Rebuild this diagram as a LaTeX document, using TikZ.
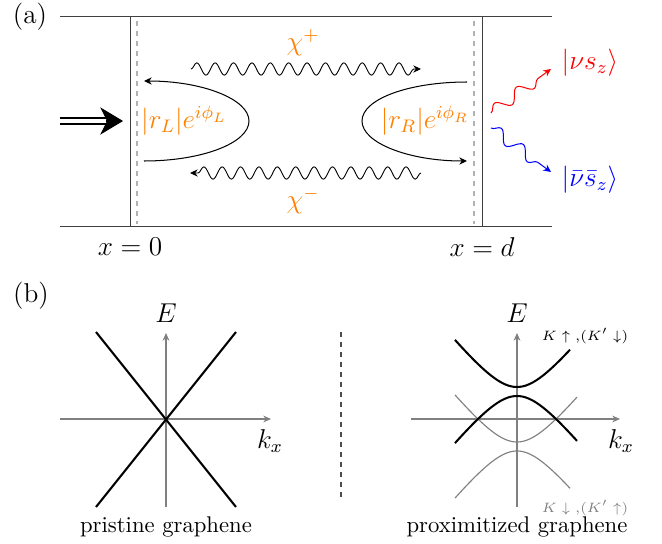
\documentclass[tikz,border=0pt]{standalone}
\usetikzlibrary{arrows.meta,decorations.pathmorphing}
\begin{document}
\begin{tikzpicture}[x=0.4405pt,y=-0.4405pt,
  boxline/.style={black!75,line width=0.4pt},
  gdash/.style={black!30,line width=0.45pt,dash pattern=on 2.2pt off 2.2pt},
  lbl/.style={font=\large,inner sep=0pt},
  org/.style={lbl,text=orange},
  tipsm/.style={-{Stealth[length=3.4pt,width=3.2pt]}},
  wavy/.style={tipsm,decorate,decoration={snake,amplitude=2.7pt,segment length=8.1pt,post length=2.5pt}},
  smallwavy/.style={tipsm,decorate,decoration={snake,amplitude=2.6pt,segment length=12pt,post length=3pt}},
  axis/.style={black!50,line width=0.45pt,-{Stealth[length=3.4pt,width=3pt]}},
  band/.style={black,line width=0.9pt},
  gband/.style={black!50,line width=0.5pt}]
\useasboundingbox (0,0) rectangle (662,544);
% ---------- (a) ----------
\node[lbl] (la) at (30,17) {(a)};
\coordinate (tl) at (60,16);  \coordinate (tr) at (552,16);
\coordinate (bl) at (60,226); \coordinate (br) at (552,226);
\draw[boxline] (tl) -- (tr);
\draw[boxline] (bl) -- (br);
\coordinate (v0t) at (130,16);  \coordinate (v0b) at (130,226);
\coordinate (vdt) at (482,16);  \coordinate (vdb) at (482,226);
\draw[boxline] (v0t) -- (v0b);
\draw[boxline] (vdt) -- (vdb);
\coordinate (d0t) at (137,21); \coordinate (d0b) at (137,224);
\coordinate (ddt) at (474,21); \coordinate (ddb) at (474,224);
\draw[gdash] (d0t) -- (d0b);
\draw[gdash] (ddt) -- (ddb);
% incoming double arrow
\coordinate (ins) at (60,121); \coordinate (inm) at (106,121); \coordinate (ine) at (123,121);
\draw[black,line width=0.55pt,double,double distance=2.1pt] (ins) -- (inm);
\draw[black,line width=0.5pt,-{Stealth[length=10pt,width=12pt,inset=3pt]}] (inm) -- (ine);
% labels
\node[lbl] (x0) at (130,247) {$x=0$};
\node[lbl] (xd) at (482,247) {$x=d$};
\node[org] (rL) at (184,121) {$|r_L|e^{i\phi_L}$};
\node[org] (rR) at (425,121) {$|r_R|e^{i\phi_R}$};
\node[org] (chp) at (303,43) {$\chi^{+}$};
\node[org] (chm) at (303,201) {$\chi^{-}$};
% wavy lines
\coordinate (w1s) at (191,69);  \coordinate (w1e) at (421,69);
\coordinate (w2s) at (421,173); \coordinate (w2e) at (190,173);
\draw[wavy] (w1s) -- (w1e);
\draw[wavy] (w2s) -- (w2e);
% U-shaped reflections
\coordinate (uL1) at (144,161); \coordinate (uL2) at (249,121); \coordinate (uL3) at (144,81);
\draw[tipsm,line width=0.45pt] (uL1) .. controls (202,161) and (249,143) .. (uL2)
   .. controls (249,99) and (202,81) .. (uL3);
\coordinate (uR1) at (467,82); \coordinate (uR2) at (362,121); \coordinate (uR3) at (467,161);
\draw[tipsm,line width=0.45pt] (uR1) .. controls (409,82) and (362,99) .. (uR2)
   .. controls (362,143) and (409,161) .. (uR3);
% outgoing states
\coordinate (rs) at (491,113); \coordinate (re) at (551,69);
\coordinate (bs) at (491,128); \coordinate (be) at (551,172);
\draw[smallwavy,red,line width=0.45pt] (rs) -- (re);
\draw[smallwavy,blue,line width=0.45pt] (bs) -- (be);
\node[lbl,text=red] (nu) at (590,63) {$|\nu s_z\rangle$};
\node[lbl,text=blue] (nub) at (590,180) {$|\bar{\nu}\bar{s}_z\rangle$};
% ---------- (b) ----------
\node[lbl] (lb) at (31,296) {(b)};
% left panel
\coordinate (hx1) at (60,419);  \coordinate (hx2) at (271,419);
\coordinate (vy1) at (166,507); \coordinate (vy2) at (166,333);
\draw[axis] (hx1) -- (hx2);
\draw[axis] (vy1) -- (vy2);
\node[lbl] (E1) at (166,313) {$E$};
\node[lbl] (k1) at (270,441) {$k_x$};
\coordinate (a1) at (96,332);  \coordinate (a2) at (236,507);
\coordinate (b1) at (96,507);  \coordinate (b2) at (236,332);
\draw[band] (a1) -- (a2);
\draw[band] (b1) -- (b2);
\node[inner sep=0pt] (cap1) at (166,527) {pristine graphene};
% separator
\coordinate (sp1) at (341,332); \coordinate (sp2) at (341,500);
\draw[black!70,line width=0.45pt,dash pattern=on 2.2pt off 2.2pt] (sp1) -- (sp2);
% right panel
\coordinate (hx3) at (411,419); \coordinate (hx4) at (620,419);
\coordinate (vy3) at (517,507); \coordinate (vy4) at (517,333);
\draw[axis] (hx3) -- (hx4);
\draw[axis] (vy3) -- (vy4);
\node[lbl] (E2) at (517,313) {$E$};
\node[lbl] (k2) at (621,441) {$k_x$};
\draw[gband] plot[domain=-62:60,samples=60,smooth] ({517+\x},{419-(-63+sqrt(1600+1.557*\x*\x))});
\draw[gband] plot[domain=-62:53,samples=60,smooth] ({517+\x},{419-(8-sqrt(1600+1.557*\x*\x))});
\draw[band] plot[domain=-62:53,samples=60,smooth] ({517+\x},{419-(-8+sqrt(1600+1.557*\x*\x))});
\draw[band] plot[domain=-62:60,samples=60,smooth] ({517+\x},{419-(63-sqrt(1600+1.557*\x*\x))});
\node[inner sep=0pt,font=\fontsize{6.3pt}{7pt}\selectfont] (ku) at (585,336) {$K\uparrow{,}(K'\downarrow)$};
\node[inner sep=0pt,font=\fontsize{6.3pt}{7pt}\selectfont,text=black!50] (kd) at (585,508) {$K\downarrow{,}(K'\uparrow)$};
\node[inner sep=0pt] (cap2) at (517,527) {proximitized graphene};
\end{tikzpicture}
\end{document}
